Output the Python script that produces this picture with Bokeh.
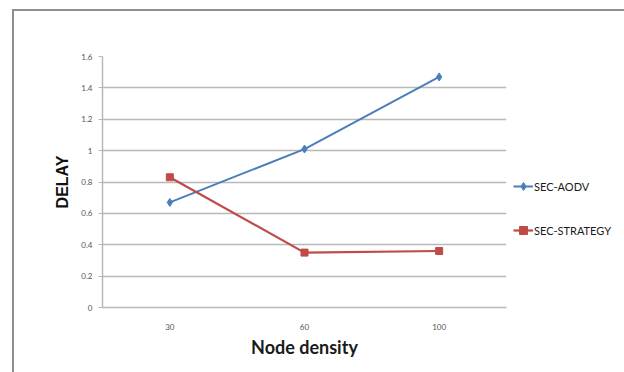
from bokeh.plotting import figure
from bokeh.models import (FactorRange, Range1d, FixedTicker, CustomJSTickFormatter,
                          Legend, LegendItem, ColumnDataSource)
from bokeh.embed import file_html
from bokeh.resources import INLINE

node_density = ["30", "60", "100"]
sec_aodv = [0.67, 1.01, 1.47]
sec_strategy = [0.83, 0.35, 0.36]
y_ticks = [0, 0.2, 0.4, 0.6, 0.8, 1.0, 1.2, 1.4, 1.6]

BLUE = "#4A7EBB"
RED = "#BE4B48"
GRID = "#b8b8b8"
LABEL_FONT = "Lato"

p = figure(frame_width=404, frame_height=251, output_backend="svg",
           toolbar_location=None,
           x_range=FactorRange(factors=node_density, range_padding=0),
           y_range=Range1d(0, 1.6),
           min_border_left=90, min_border_right=116,
           min_border_top=47, min_border_bottom=65)
p.margin = (9, 2, 0, 12)
p.styles = {"box-shadow": "inset 2px 2px 0 #8f8f8f, inset -2px 0 0 #8f8f8f"}
p.outline_line_color = None
p.background_fill_color = "white"
p.border_fill_alpha = 0

src = ColumnDataSource(dict(x=node_density, a=sec_aodv, s=sec_strategy))
la = p.line("x", "a", source=src, line_color=BLUE, line_width=2)
ma = p.scatter("x", "a", source=src, marker="diamond", size=8,
               fill_color=BLUE, line_color=BLUE)
ls = p.line("x", "s", source=src, line_color=RED, line_width=2.2)
ms = p.scatter("x", "s", source=src, marker="square", size=7,
               fill_color=RED, line_color=RED)

# axes
p.yaxis.ticker = FixedTicker(ticks=y_ticks)
p.yaxis.formatter = CustomJSTickFormatter(
    code="return tick.toFixed(1).replace(/\\.0$/, '');")
for ax in (p.xaxis[0], p.yaxis[0]):
    ax.axis_line_color = GRID
    ax.axis_line_width = 1.5
    ax.major_tick_in = 0
    ax.major_tick_out = 4
    ax.major_tick_line_color = GRID
    ax.minor_tick_line_color = None
    ax.major_label_text_font = LABEL_FONT
    ax.major_label_text_font_size = "8px"
    ax.major_label_text_color = "#555555"
p.xaxis.major_tick_out = 0
p.xaxis.major_label_standoff = 16
p.yaxis.major_label_standoff = 6

p.yaxis.axis_label = "DELAY"
p.yaxis.axis_label_text_font = "Liberation Sans"
p.yaxis.axis_label_text_font_style = "bold"
p.yaxis.axis_label_text_font_size = "16px"
p.yaxis.axis_label_text_color = "#111111"
p.yaxis.axis_label_standoff = 7

p.xaxis.axis_label = "Node density"
p.xaxis.axis_label_text_font = LABEL_FONT
p.xaxis.axis_label_text_font_style = "bold"
p.xaxis.axis_label_text_font_size = "18px"
p.xaxis.axis_label_text_color = "#1a1a1a"
p.xaxis.axis_label_standoff = 3

p.xgrid.grid_line_color = None
p.ygrid.ticker = FixedTicker(ticks=y_ticks)
p.ygrid.grid_line_color = GRID
p.ygrid.grid_line_width = 1.5

legend = Legend(items=[LegendItem(label="SEC-AODV", renderers=[la, ma]),
                       LegendItem(label="SEC-STRATEGY", renderers=[ls, ms])],
                location="top_left", orientation="vertical",
                title=" ", title_text_font_size="10px", title_standoff=102,
                glyph_width=20, glyph_height=20, label_height=20,
                spacing=24, padding=0, margin=7, label_standoff=1,
                border_line_color=None, background_fill_alpha=0,
                label_text_font=LABEL_FONT, label_text_font_size="11px",
                label_text_color="#1a1a1a")
p.add_layout(legend, "right")

open("out.html", "w").write(file_html(p, INLINE))
